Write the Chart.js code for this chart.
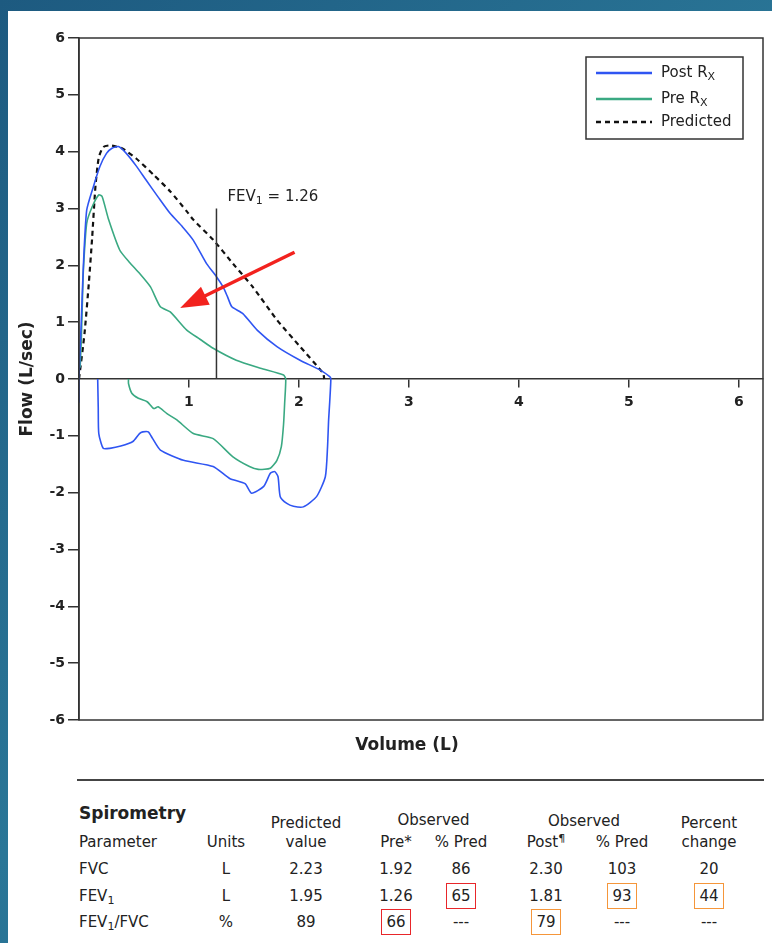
<!DOCTYPE html>
<html>
<head>
<meta charset="utf-8">
<script src="https://cdn.jsdelivr.net/npm/chart.js@4.4.1/dist/chart.umd.min.js"></script>
<style>
  html, body { margin: 0; padding: 0; }
  body {
    width: 772px; height: 943px; overflow: hidden; position: relative;
    background: linear-gradient(135deg, #1d5a80 0%, #2a7697 50%, #1f6288 100%);
    font-family: "DejaVu Sans", Verdana, sans-serif; color: #222;
  }
  #panel { position: absolute; left: 8px; top: 11px; right: 0; bottom: 0; background: #fff; }
  #chart { position: absolute; left: 0; top: 0; }
  #sep { position: absolute; left: 69px; top: 768px; width: 687px; height: 0; border-top: 2px solid #444; }
  .c { position: absolute; width: 120px; margin-left: -60px; text-align: center; font-size: 15px; line-height: 16px; white-space: nowrap; }
  .l { position: absolute; font-size: 15px; line-height: 16px; white-space: nowrap; }
  .box { position: absolute; border: 1.5px solid; box-sizing: border-box; }
  sub { font-size: 11px; vertical-align: -3px; line-height: 0; }
  sup { font-size: 11px; vertical-align: 5px; line-height: 0; }
</style>
</head>
<body>
<div id="panel">
  <canvas id="chart" width="764" height="760"></canvas>
  <div id="sep"></div>
  <div id="table"></div>
</div>
<script>
// flow-volume loops (volume in L, flow in L/sec)
const postVolume = [0, 0, 0.01, 0.02, 0.04, 0.07, 0.13, 0.19, 0.25, 0.30, 0.36, 0.43, 0.52, 0.61, 0.72, 0.83, 0.94, 1.04, 1.16, 1.25, 1.31, 1.35, 1.39, 1.49, 1.62, 1.80, 2.01, 2.19, 2.28, 2.29,
  2.28, 2.27, 2.26, 2.24, 2.16, 2.04, 1.95, 1.89, 1.83, 1.81, 1.78, 1.74, 1.68, 1.57, 1.51, 1.37, 1.22, 0.95, 0.74, 0.67, 0.63, 0.58, 0.55, 0.49, 0.38, 0.28, 0.22, 0.18, 0.175, 0.17];
const postFlow = [-0.42, 0, 0.5, 0.98, 2.0, 2.97, 3.38, 3.74, 3.97, 4.06, 4.09, 3.97, 3.75, 3.50, 3.20, 2.91, 2.68, 2.44, 2.03, 1.80, 1.62, 1.45, 1.27, 1.15, 0.86, 0.57, 0.33, 0.16, 0.04, 0,
  -0.4, -0.72, -1.2, -1.72, -2.07, -2.25, -2.24, -2.19, -2.07, -1.72, -1.63, -1.66, -1.89, -2.01, -1.84, -1.75, -1.54, -1.43, -1.25, -1.05, -0.93, -0.93, -0.96, -1.10, -1.18, -1.22, -1.22, -0.96, -0.5, 0];

const preVolume = [0.01, 0.02, 0.03, 0.04, 0.07, 0.12, 0.18, 0.21, 0.27, 0.37, 0.46, 0.55, 0.65, 0.74, 0.83, 0.98, 1.10, 1.22, 1.43, 1.65, 1.86, 1.88,
  1.87, 1.86, 1.84, 1.80, 1.74, 1.63, 1.55, 1.40, 1.22, 1.04, 0.89, 0.80, 0.72, 0.68, 0.62, 0.54, 0.48, 0.45, 0.45];
const preFlow = [0.2, 0.63, 1.3, 1.92, 2.74, 3.03, 3.24, 3.21, 2.80, 2.27, 2.05, 1.86, 1.62, 1.27, 1.18, 0.86, 0.70, 0.54, 0.33, 0.19, 0.07, 0,
  -0.43, -0.8, -1.19, -1.43, -1.57, -1.59, -1.54, -1.37, -1.05, -0.96, -0.72, -0.61, -0.49, -0.52, -0.40, -0.34, -0.25, -0.08, 0];

const predVolume = [0, 0.05, 0.09, 0.12, 0.15, 0.18, 0.22, 0.28, 0.39, 0.52, 0.68, 0.83, 0.98, 1.04, 1.22, 1.40, 1.58, 1.80, 2.01, 2.22, 2.23];
const predFlow = [0, 0.8, 1.7, 2.5, 3.4, 3.9, 4.08, 4.11, 4.06, 3.88, 3.59, 3.30, 2.95, 2.80, 2.45, 2.03, 1.62, 1.04, 0.57, 0.10, 0];

const volumeTicks = [1, 2, 3, 4, 5, 6];
const flowTicks = [-6, -5, -4, -3, -2, -1, 0, 1, 2, 3, 4, 5, 6];

const fev1 = 1.25;      // marker line position
const fev1Top = 3.0;
const arrowFrom = [1.96, 2.23];
const arrowTo = [0.92, 1.25];

const seriesNames = ["Post R", "Pre R", "Predicted"];

const pts = (xs, ys) => xs.map((v, i) => ({ x: v, y: ys[i] }));

const BLUE = "#2f55f2", GREEN = "#3aa982";

function drawSub(ctx, parts, x, y) {
  // parts: [text, isSub]
  parts.forEach(([t, sub]) => {
    ctx.font = sub ? "11px 'DejaVu Sans'" : "15px 'DejaVu Sans'";
    ctx.fillText(t, x, sub ? y + 4 : y);
    x += ctx.measureText(t).width;
  });
}

const overlay = {
  id: "overlay",
  afterDatasetsDraw(chart) {
    const { ctx, chartArea: a, scales: { x, y } } = chart;
    ctx.save();
    // frame
    ctx.strokeStyle = "#333";
    ctx.lineWidth = 1.5;
    ctx.strokeRect(a.left, a.top, a.right - a.left, a.bottom - a.top);

    // FEV1 marker
    ctx.lineWidth = 1.5;
    ctx.beginPath();
    ctx.moveTo(x.getPixelForValue(fev1), y.getPixelForValue(0));
    ctx.lineTo(x.getPixelForValue(fev1), y.getPixelForValue(fev1Top));
    ctx.stroke();
    ctx.fillStyle = "#222";
    ctx.textBaseline = "middle";
    drawSub(ctx, [["FEV", false], ["1", true], [" = 1.26", false]], x.getPixelForValue(fev1) + 11, y.getPixelForValue(fev1Top) - 11);

    // red arrow
    const x0 = x.getPixelForValue(arrowFrom[0]), y0 = y.getPixelForValue(arrowFrom[1]);
    const x1 = x.getPixelForValue(arrowTo[0]), y1 = y.getPixelForValue(arrowTo[1]);
    const ang = Math.atan2(y1 - y0, x1 - x0);
    const hl = 28, hw = 10;
    const bx = x1 - hl * Math.cos(ang), by = y1 - hl * Math.sin(ang);
    ctx.strokeStyle = "#f2221e";
    ctx.fillStyle = "#f2221e";
    ctx.lineWidth = 3.5;
    ctx.beginPath();
    ctx.moveTo(x0, y0);
    ctx.lineTo(bx + 4 * Math.cos(ang), by + 4 * Math.sin(ang));
    ctx.stroke();
    ctx.beginPath();
    ctx.moveTo(x1, y1);
    ctx.lineTo(bx + hw * Math.sin(ang), by - hw * Math.cos(ang));
    ctx.lineTo(bx - hw * Math.sin(ang), by + hw * Math.cos(ang));
    ctx.closePath();
    ctx.fill();

    // legend
    const lx = a.right - 177, ly = a.top + 19, lw = 157, lh = 82;
    ctx.strokeStyle = "#333";
    ctx.lineWidth = 1.5;
    ctx.strokeRect(lx, ly, lw, lh);
    const rows = [[BLUE, [], seriesNames[0], true], [GREEN, [], seriesNames[1], true], ["#111", [5, 4], seriesNames[2], false]];
    rows.forEach(([col, dash, name, sub], i) => {
      const yy = ly + [16, 42, 65][i];
      ctx.strokeStyle = col;
      ctx.lineWidth = 2.5;
      ctx.setLineDash(dash);
      ctx.beginPath();
      ctx.moveTo(lx + 10, yy);
      ctx.lineTo(lx + 66, yy);
      ctx.stroke();
      ctx.setLineDash([]);
      ctx.fillStyle = "#222";
      drawSub(ctx, sub ? [[name, false], ["X", true]] : [[name, false]], lx + 75, yy);
    });

    // x title
    ctx.font = "bold 17px 'DejaVu Sans'";
    ctx.textAlign = "center";
    ctx.fillStyle = "#222";
    ctx.fillText("Volume (L)", a.left + 328, a.bottom + 26);
    ctx.restore();
  }
};

new Chart(document.getElementById("chart"), {
  type: "scatter",
  data: {
    datasets: [
      { label: seriesNames[0], data: pts(postVolume, postFlow), borderColor: BLUE, borderWidth: 1.6, showLine: true, pointRadius: 0, tension: 0.2 },
      { label: seriesNames[1], data: pts(preVolume, preFlow), borderColor: GREEN, borderWidth: 1.6, showLine: true, pointRadius: 0, tension: 0.2 },
      { label: seriesNames[2], data: pts(predVolume, predFlow), borderColor: "#111", borderWidth: 2.2, borderDash: [5, 4], showLine: true, pointRadius: 0, tension: 0.2 }
    ]
  },
  options: {
    responsive: false,
    animation: false,
    layout: { padding: { top: 27, right: 9, bottom: 51, left: 0 } },
    plugins: { legend: { display: false }, tooltip: { enabled: false } },
    scales: {
      x: {
        type: "linear",
        position: { y: 0 },
        min: 0, max: 6.22,
        afterFit: s => { s.height = 0; },
        afterBuildTicks: s => { s.ticks = volumeTicks.map(v => ({ value: v })); },
        grid: { drawOnChartArea: false, tickLength: 8, color: "#333", lineWidth: 1.5 },
        border: { display: true, color: "#333", width: 1.5 },
        ticks: { color: "#222", font: { family: "DejaVu Sans", size: 14, weight: "bold" }, padding: 7 }
      },
      y: {
        min: -6, max: 6,
        afterFit: s => { s.width = 71; },
        afterBuildTicks: s => { s.ticks = flowTicks.map(v => ({ value: v })); },
        grid: { drawOnChartArea: false, tickLength: 11, color: "#333", lineWidth: 1.5 },
        border: { display: true, color: "#333", width: 1.5 },
        ticks: { color: "#222", font: { family: "DejaVu Sans", size: 14, weight: "bold" }, padding: 3 },
        title: { display: true, text: "Flow (L/sec)", color: "#222", font: { family: "DejaVu Sans", size: 17, weight: "bold" }, padding: { top: 9, bottom: 0 } }
      }
    }
  },
  plugins: [overlay]
});

// spirometry table
const colX = [71, 218, 298, 388, 453, 538, 614, 701];   // panel coords
const headTop = ["", "", "Predicted", "", "", "", "", "Percent"];
const headBottom = ["Parameter", "Units", "value", "Pre*", "% Pred", "Post<sup>¶</sup>", "% Pred", "change"];
const tableRows = [
  ["FVC", "L", "2.23", "1.92", "86", "2.30", "103", "20"],
  ["FEV<sub>1</sub>", "L", "1.95", "1.26", "65", "1.81", "93", "44"],
  ["FEV<sub>1</sub>/FVC", "%", "89", "66", "---", "79", "---", "---"]
];
const boxed = { "1,4": "#e8262a", "1,6": "#f5963a", "1,7": "#f5963a", "2,3": "#e8262a", "2,5": "#f5963a" };
const rowY = [858, 885, 911];

const t = document.getElementById("table");
let html = '<div class="l" style="left:71px;top:794px;font-size:17px;font-weight:bold">Spirometry</div>';
html += '<div class="c" style="left:' + ((colX[3] + colX[4]) / 2 + 5) + 'px;top:801px">Observed</div>';
html += '<div class="c" style="left:' + ((colX[5] + colX[6]) / 2) + 'px;top:802px">Observed</div>';
headTop.forEach((h, i) => { if (h) html += '<div class="c" style="left:' + colX[i] + 'px;top:804px">' + h + '</div>'; });
headBottom.forEach((h, i) => {
  html += i === 0 ? '<div class="l" style="left:71px;top:823px">' + h + '</div>'
    : '<div class="c" style="left:' + colX[i] + 'px;top:823px">' + h + '</div>';
});
tableRows.forEach((r, ri) => {
  r.forEach((v, i) => {
    const top = rowY[ri] - 8;
    html += i === 0 ? '<div class="l" style="left:71px;top:' + top + 'px">' + v + '</div>'
      : '<div class="c" style="left:' + colX[i] + 'px;top:' + top + 'px">' + v + '</div>';
    const col = boxed[ri + "," + i];
    if (col) html += '<div class="box" style="border-color:' + col + ';left:' + (colX[i] - 15) + 'px;top:' + (top - 5) + 'px;width:30px;height:26px"></div>';
  });
});
t.innerHTML = html;
</script>
</body>
</html>
